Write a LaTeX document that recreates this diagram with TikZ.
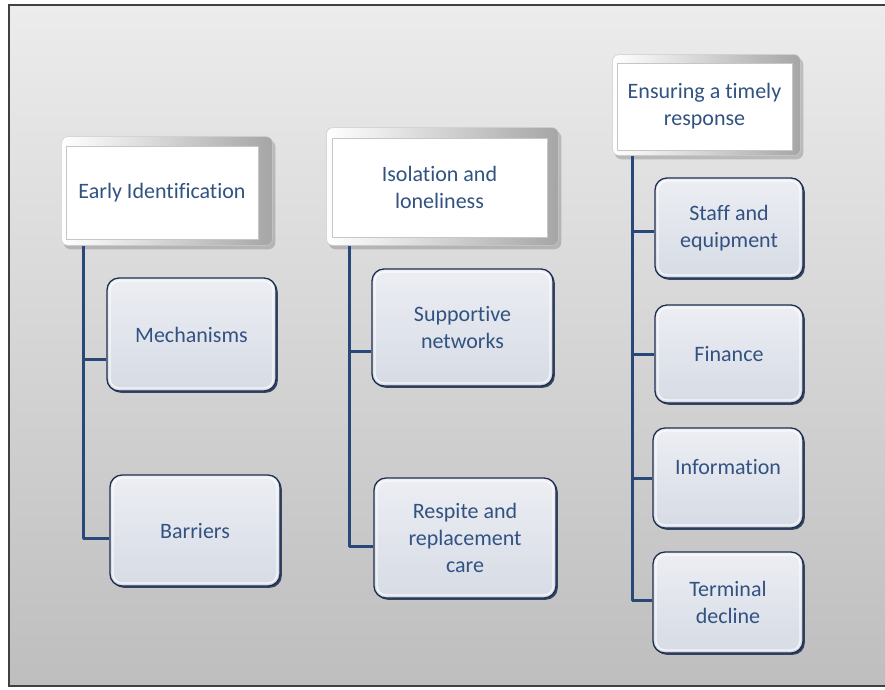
\documentclass[tikz,border=0pt]{standalone}
\usepackage{fontspec}
\setmainfont{Carlito}[Ligatures=NoCommon]
\usetikzlibrary{shadows}
\pgfdeclarelayer{bg}
\pgfdeclarelayer{mid}
\pgfsetlayers{bg,mid,main}
\definecolor{txtblue}{RGB}{50,82,130}
\definecolor{linkblue}{RGB}{40,72,122}
\definecolor{boxedge}{RGB}{28,45,78}
\definecolor{boxtop}{RGB}{236,238,243}
\definecolor{boxbot}{RGB}{214,219,229}
\definecolor{pagetop}{RGB}{236,236,236}
\definecolor{pagebot}{RGB}{190,190,190}
\begin{document}
\begin{tikzpicture}[x=1pt,y=-1pt,
  lbl/.style={font=\fontsize{22}{27}\selectfont, text=txtblue, align=center, inner sep=0pt},
  hdr/.style={lbl, fill=white, draw=gray!45, line width=0.6pt},
  leaf/.style={lbl, rounded corners=12pt, draw=boxedge, line width=1.3pt,
    top color=boxtop, bottom color=boxbot,
    drop shadow={shadow xshift=1.8pt, shadow yshift=-1.8pt, fill=boxedge, opacity=0.85},
    path picture={\draw[white, line width=1.4pt, opacity=0.75, rounded corners=9pt]
      ([shift={(3pt,3pt)}]path picture bounding box.south west) rectangle
      ([shift={(-3pt,-3pt)}]path picture bounding box.north east);}},
  conn/.style={draw=linkblue, line width=3pt, line join=round},
  bevel/.style={rounded corners=6pt, left color=white, right color=gray!70, draw=gray!40, line width=0.5pt},
  hshadow/.style={fill=black, opacity=0.18, rounded corners=7pt}
]
\useasboundingbox (0,0) rectangle (885,689);

% page
\begin{pgfonlayer}{bg}
  \fill[white] (0,0) rectangle (885,689);
  \shade[top color=pagetop, bottom color=pagebot] (9,5) rectangle (885,686);
  \draw[black!75, line width=1.5pt] (9,5) rectangle (892,686);
\end{pgfonlayer}

% headers
\node[hdr, minimum width=192pt, minimum height=93pt] (h1) at (162,192.5) {Early Identification};
\node[hdr, minimum width=215pt, minimum height=99pt] (h2) at (439.5,187.5) {Isolation and\\loneliness};
\node[hdr, minimum width=175pt, minimum height=87pt] (h3) at (704.5,106.5) {Ensuring a timely\\response};

\begin{pgfonlayer}{mid}
  \foreach \h/\l/\t/\r/\b in {h1/4/9/14/6, h2/5/10/11/8, h3/4/8/8/5}{
    \fill[hshadow] ([shift={(-\l pt+2pt,\t pt-3pt)}]\h.north west) rectangle ([shift={(\r pt+3pt,-\b pt-4pt)}]\h.south east);
    \shade[bevel] ([shift={(-\l pt,\t pt)}]\h.north west) rectangle ([shift={(\r pt,-\b pt)}]\h.south east);
  }
\end{pgfonlayer}

% leaves
\node[leaf, minimum width=169pt, minimum height=113pt] (m1) at (191.5,334.5) {Mechanisms};
\node[leaf, minimum width=170pt, minimum height=111pt] (b1) at (195,530.5) {Barriers};
\node[leaf, minimum width=181pt, minimum height=117pt] (s2) at (462.5,327.5) {Supportive\\networks};
\node[leaf, minimum width=182pt, minimum height=120pt] (r2) at (465,538) {Respite and\\replacement\\care};
\node[leaf, minimum width=148pt, minimum height=100pt] (c3) at (729,228) {Staff and\\equipment};
\node[leaf, minimum width=148pt, minimum height=98pt] (f3) at (729,354) {Finance};
\node[leaf, minimum width=150pt, minimum height=100pt] (i3) at (728,478) {\raisebox{11pt}[\height][\depth]{Information}};
\node[leaf, minimum width=150pt, minimum height=101pt] (t3) at (728,602.5) {Terminal\\decline};

% connectors
\draw[conn] ([xshift=18pt,yshift=-7pt]h1.south west) |- ([yshift=-24.5pt]m1.west);
\draw[conn] ([xshift=18pt,yshift=-7pt]h1.south west) |- ([yshift=-7.5pt]b1.west);
\draw[conn] ([xshift=18pt,yshift=-9pt]h2.south west) |- ([yshift=-23.5pt]s2.west);
\draw[conn] ([xshift=18pt,yshift=-9pt]h2.south west) |- ([yshift=-8pt]r2.west);
\draw[conn] ([xshift=16pt,yshift=-6pt]h3.south west) |- ([yshift=-3pt]c3.west);
\draw[conn] ([xshift=16pt,yshift=-6pt]h3.south west) |- (f3.west);
\draw[conn] ([xshift=16pt,yshift=-6pt]h3.south west) |- (i3.west);
\draw[conn] ([xshift=16pt,yshift=-6pt]h3.south west) |- ([yshift=2.5pt]t3.west);
\end{tikzpicture}
\end{document}
